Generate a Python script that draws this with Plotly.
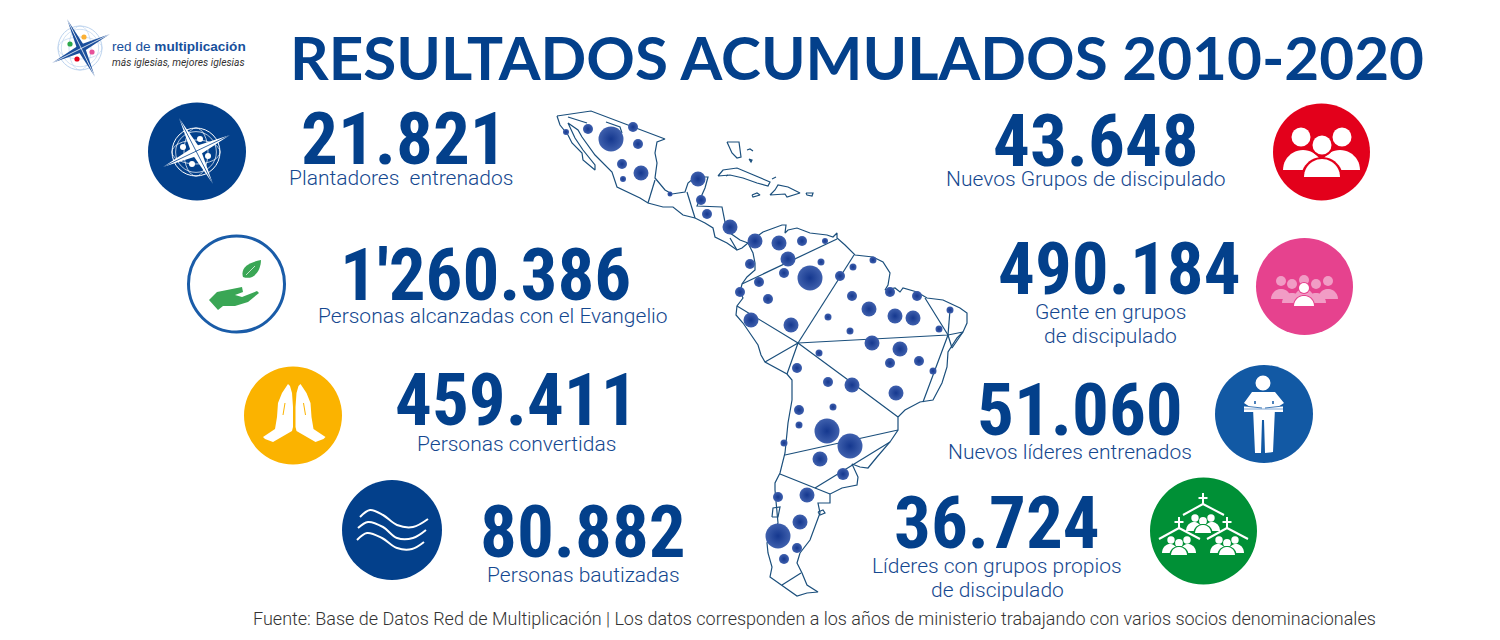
import numpy as np
import plotly.graph_objects as go

BLUE = "#03408b"
SUB = "#15488f"
MAP = "#1b4f7c"

# big numbers
stat_text = ["21.821", "1'260.386", "459.411", "80.882", "43.648", "490.184", "51.060", "36.724"]
stat_x = [404, 485, 516, 583, 1096, 1119, 1080, 997]
stat_y = [139, 275, 400, 532, 141, 269, 410, 523]

# captions
cap_text = ["Plantadores  entrenados", "Personas alcanzadas con el Evangelio", "Personas convertidas",
            "Personas bautizadas", "Nuevos Grupos de discipulado", "Gente en grupos", "de discipulado",
            "Nuevos líderes entrenados", "Líderes con grupos propios", "de discipulado"]
cap_x = [401, 493, 516, 583, 1086, 1110, 1110, 1070, 997, 997]
cap_y = [178, 316, 444, 575, 179, 312, 336, 452, 566, 590]

# dots on the map
dot_x = [566, 588, 611, 633, 638, 622, 641, 623, 698, 670, 701, 707, 730, 755, 779, 802, 825, 788, 821, 750,
         784, 810, 840, 759, 740, 768, 751, 791, 828, 819, 873, 853, 890, 917, 852, 950, 869, 895, 913, 939,
         850, 872, 900, 890, 919, 933, 797, 828, 852, 896, 833, 799, 799, 827, 850, 784, 820, 843, 807, 778,
         800, 778, 797, 784]
dot_y = [132, 129, 139, 127, 144, 164, 173, 179, 179, 194, 200, 214, 227, 241, 243, 241, 241, 259, 262, 264,
         273, 278, 276, 282, 292, 299, 320, 325, 317, 353, 260, 267, 292, 296, 296, 310, 309, 316, 318, 329,
         331, 343, 349, 363, 361, 371, 368, 382, 385, 393, 407, 410, 425, 431, 446, 443, 459, 474, 495, 497,
         522, 536, 548, 559]
dot_size = [6, 10, 25, 10, 10, 10, 15, 6, 15, 5, 10, 10, 15, 15, 15, 10, 6, 15, 7, 10,
            10, 25, 10, 10, 10, 10, 15, 15, 7, 7, 7, 7, 10, 10, 10, 7, 15, 15, 15, 7,
            7, 15, 15, 10, 10, 7, 10, 10, 15, 15, 7, 10, 7, 25, 25, 7, 15, 12, 15, 10,
            15, 25, 10, 10]

# map outlines, one list per line
map_lines = [
    # mexico and central america
    [(557, 116), (591, 111), (665, 139), (657, 142), (655, 153), (657, 163), (655, 178), (665, 190), (672, 194),
     (685, 192), (688, 183), (695, 177), (708, 177), (705, 188), (697, 206), (722, 207), (725, 222), (730, 233),
     (740, 240), (748, 243)],
    [(737, 250), (727, 243), (715, 237), (713, 228), (705, 223), (695, 218), (683, 215), (673, 207), (663, 207),
     (648, 203), (640, 198), (617, 187), (612, 172), (595, 155), (582, 137), (578, 130), (568, 123), (575, 138),
     (583, 150), (595, 165), (595, 170), (583, 160), (582, 153), (572, 143), (568, 135), (560, 125), (557, 116)],
    [(568, 117), (587, 123)], [(606, 122), (620, 127), (622, 133)],
    [(655, 180), (648, 203)], [(687, 192), (695, 218)],
    # south america coast
    [(730, 238), (737, 250), (742, 248), (748, 243), (763, 232), (782, 225), (786, 225), (785, 233), (788, 230),
     (797, 228), (810, 233), (827, 235), (833, 237), (837, 233), (837, 238), (845, 245), (855, 255), (873, 257),
     (883, 262), (890, 273), (888, 285), (885, 290), (895, 288), (900, 292), (903, 288), (917, 292), (927, 298),
     (943, 300), (960, 308), (967, 313), (967, 323), (963, 332), (957, 338), (948, 352), (947, 367), (942, 383),
     (933, 400), (920, 402), (905, 410), (898, 417), (898, 430), (890, 442), (877, 457), (868, 468), (860, 467),
     (852, 464), (858, 477), (857, 485), (842, 488), (830, 494), (830, 503), (818, 503), (820, 513), (815, 527),
     (810, 540), (800, 553), (797, 563), (802, 573), (807, 585), (818, 592), (807, 593), (797, 596), (782, 585),
     (770, 577), (772, 567), (768, 553), (767, 543), (778, 523), (775, 490), (775, 483), (780, 473), (785, 453),
     (788, 423), (792, 400), (792, 380), (787, 374), (765, 362), (761, 355), (758, 345), (750, 333), (743, 323),
     (736, 315), (737, 306), (743, 298), (740, 292), (742, 284), (747, 277), (755, 270), (755, 263), (753, 253),
     (748, 243)],
    # borders
    [(742, 284), (837, 239)],
    [(737, 306), (798, 343), (859, 388), (898, 417)],
    [(798, 343), (854, 255)],
    [(798, 343), (948, 335), (963, 332)],
    [(925, 298), (948, 335), (923, 402)],
    [(950, 310), (948, 335)],
    [(765, 362), (798, 343), (787, 374)],
    [(948, 335), (952, 348), (963, 332)],
    [(898, 430), (785, 455)],
    [(780, 474), (830, 494)],
    [(815, 488), (890, 442)],
    [(782, 585), (801, 573)],
    # islands
    [(772, 517), (773, 508), (780, 507), (778, 517), (772, 517)],
    [(818, 512), (823, 510), (825, 513), (820, 515), (818, 512)],
    [(727, 142), (739, 142), (741, 157), (737, 158), (732, 153), (727, 142)],
    [(718, 176), (723, 170), (737, 168), (753, 175), (770, 182), (768, 186), (757, 183), (743, 178), (730, 175), (718, 176)],
    [(770, 195), (775, 190), (778, 185), (788, 187), (800, 193), (787, 197), (785, 194), (770, 195)],
    [(752, 195), (757, 193), (760, 195), (753, 197), (752, 195)],
    [(806, 193), (813, 193), (812, 196), (807, 195), (806, 193)],
    [(747, 150), (750, 149), (753, 151)], [(749, 159), (752, 160), (751, 162), (749, 159)],
    [(772, 179), (776, 177)], [(726, 176), (728, 175)],
]

# icon discs: centre x, centre y, radius, colour
disc_x = [197, 293, 392, 1321.5, 1304.5, 1264, 1203.5]
disc_y = [151.5, 415.5, 530, 152, 286.5, 414, 531]
disc_r = [49, 49, 50, 48.5, 48.5, 49, 53.5]
disc_c = [BLUE, "#fbb300", BLUE, "#e3001b", "#e6428e", "#1259a4", "#009036"]

shapes = []


def poly(pts, color):
    p = "M" + " L".join(f"{x:.1f},{y:.1f}" for x, y in pts) + " Z"
    shapes.append(dict(type="path", path=p, fillcolor=color, line=dict(width=0), xref="x", yref="y", layer="below"))


def line(x0, y0, x1, y1, color, w=1.5):
    shapes.append(dict(type="line", x0=x0, y0=y0, x1=x1, y1=y1, line=dict(color=color, width=w), xref="x", yref="y", layer="below"))


def circle(cx, cy, r, fill="rgba(0,0,0,0)", edge=None, w=0, ry=None):
    ry = ry or r
    shapes.append(dict(type="circle", x0=cx - r, x1=cx + r, y0=cy - ry, y1=cy + ry, fillcolor=fill,
                       line=dict(color=edge or fill, width=w), xref="x", yref="y", layer="below"))


def dome(cx, base, rx, ry, color):
    t = np.linspace(np.pi, 2 * np.pi, 25)
    poly([(cx + rx * np.cos(a), base + ry * np.sin(a)) for a in t], color)


def ray(x0, y0, x1, y1, w, color):
    mx, my = (x0 + x1) / 2, (y0 + y1) / 2
    dx, dy = x1 - x0, y1 - y0
    n = np.hypot(dx, dy)
    nx, ny = -dy / n * w / 2, dx / n * w / 2
    poly([(x0, y0), (mx + nx, my + ny), (x1, y1), (mx - nx, my - ny)], color)


def compass(cx, cy, r, a, b, col, split, globe, w):
    # a and b are the two rays, globe rings behind them
    circle(cx, cy, r, edge=globe, w=1)
    circle(cx, cy, r * 0.85, edge=globe, w=0.7)
    circle(cx, cy, r * 0.5, ry=r, edge=globe, w=0.7)
    circle(cx, cy, r, ry=r * 0.5, edge=globe, w=0.7)
    ray(*a, w, col)
    ray(*b, w, col)
    line(*a, split, 0.8)
    line(*b, split, 0.8)


for cx, cy, r, c in zip(disc_x, disc_y, disc_r, disc_c):
    circle(cx, cy, r, fill=c)
circle(236.5, 284, 48, fill="white", edge="#1a5ca8", w=3)

# logo
compass(80, 48, 22, (67, 19, 95, 77), (52, 63, 110, 34), "#1b4f9c", "white", "#bcd3ee", 8)
for x, y, c in [(70, 44, "#2da84a"), (84, 37, "#fbb034"), (92, 52, "#e6529b"), (77, 59, "#e3001b")]:
    circle(x, y, 2.6, fill=c)

# compass on blue
compass(196, 152, 24, (179, 118, 213, 184), (163, 167, 230, 135), "white", BLUE, "white", 10)
for x, y in [(200, 139), (183, 147), (208, 156), (192, 164)]:
    circle(x, y, 3, fill="white")

# hand and leaf
shapes.append(dict(type="path", path="M243,277 C240,267 250,262 261,260 C261,270 254,281 243,277 Z",
                   fillcolor="#3aa655", line=dict(width=0), xref="x", yref="y", layer="below"))
line(246, 275, 255, 266, "white", 0.7)
poly([(209, 300), (217, 292), (242, 287), (243, 292), (235, 295), (242, 297), (257, 291), (259, 293), (248, 302),
      (235, 306), (223, 306), (218, 310)], "#3aa655")

# praying hands
left_hand = [(288, 384), (282, 393), (278, 403), (277, 417), (275, 429), (263, 437), (265, 439), (273, 442),
             (292, 431), (293, 427), (293, 407), (292, 393), (290, 386)]
poly(left_hand, "white")
poly([(588.5 - x, y) for x, y in left_hand], "white")
line(285, 403, 283, 415, "#fbb300", 1)
line(303.5, 403, 305.5, 415, "#fbb300", 1)

# three people on red
circle(1301, 137, 9.5, fill="white")
circle(1342, 137, 9.5, fill="white")
dome(1303, 170, 20, 20, "white")
dome(1340, 170, 20, 20, "white")
circle(1322, 145, 11.5, fill="#e3001b")
circle(1322, 145, 9.5, fill="white")
dome(1322, 178, 21, 21, "#e3001b")
dome(1322, 177, 18, 18, "white")

# crowd on pink
for x, b, h in [(1281, 299, 281), (1328, 299, 281), (1304, 299, 280), (1292, 303, 284), (1316, 303, 284)]:
    circle(x, h, 5, fill="#f19cc5")
    dome(x, b, 10, 10, "#f19cc5")
circle(1304, 288, 6, fill="#e6428e")
circle(1304, 288, 5, fill="white")
dome(1304, 306, 11, 11, "#e6428e")
dome(1304, 306, 10, 10, "white")

# reader on blue
circle(1263, 383, 7.5, fill="white")
poly([(1252, 392), (1275, 392), (1284, 403), (1278, 407), (1275, 408), (1273, 452), (1265, 453), (1264, 420),
      (1262, 420), (1261, 453), (1255, 453), (1253, 408), (1250, 407), (1244, 403)], "white")
poly([(1244, 406), (1283, 406), (1283, 412), (1244, 412)], "white")
line(1244, 409, 1283, 409, "#7fa6d4", 1)
line(1244, 406, 1262, 408, "#1259a4", 0.8)
line(1283, 406, 1265, 408, "#1259a4", 0.8)
line(1255, 404, 1255, 401, "#1259a4", 1.5)
line(1273, 404, 1273, 401, "#1259a4", 1.5)

# churches on green
GREEN = "#009036"
for cx, base, top in [(1203, 533, 504), (1179, 555, 528), (1227, 555, 528)]:
    shapes.append(dict(type="path", path=f"M{cx - 20},{top + 11} L{cx},{top} L{cx + 21},{top + 11}",
                       line=dict(color="white", width=2), xref="x", yref="y", layer="below"))
    line(cx, top - 11, cx, top, "white", 2)
    line(cx - 4.5, top - 6, cx + 4.5, top - 6, "white", 2)
    circle(cx - 8, base - 15, 3.7, fill="white")
    circle(cx + 8, base - 15, 3.7, fill="white")
    dome(cx - 9, base - 2, 8, 9, "white")
    dome(cx + 9, base - 2, 8, 9, "white")
    circle(cx, base - 12, 3.9, fill="white")
    dome(cx, base, 9.5, 9, GREEN)
    dome(cx, base, 8, 8, "white")

fig = go.Figure()

# waves
wave_x = [[360, 370, 383, 397, 413, 428], [358, 368, 383, 397, 413, 426], [357, 367, 382, 397, 412, 424]]
wave_y = [[517, 510, 515, 525, 527, 519], [528, 522, 527, 538, 538, 530], [540, 533, 538, 548, 549, 542]]
for wx, wy in zip(wave_x, wave_y):
    fig.add_trace(go.Scatter(x=wx, y=wy, mode="lines", line=dict(color="white", width=2, shape="spline"), hoverinfo="skip"))

for pts in map_lines:
    fig.add_trace(go.Scatter(x=[p[0] for p in pts], y=[p[1] for p in pts], mode="lines",
                             line=dict(color=MAP, width=1.2), hoverinfo="skip"))

fig.add_trace(go.Scatter(
    x=dot_x, y=dot_y, mode="markers",
    marker=dict(size=dot_size, color="#3f60ad", opacity=1, line=dict(width=0),
                gradient=dict(type="radial", color="#15388f")),
    hoverinfo="skip"))

notes = []
for t, x, y in zip(stat_text, stat_x, stat_y):
    notes.append(dict(text=t, x=x, y=y, font=dict(family="Roboto Condensed, Liberation Sans Narrow", size=73, color=BLUE, weight=700)))
for t, x, y in zip(cap_text, cap_x, cap_y):
    notes.append(dict(text=t, x=x, y=y, font=dict(family="Roboto", size=21, color=SUB, weight=300)))
notes.append(dict(text="RESULTADOS ACUMULADOS 2010-2020", x=857, y=57, font=dict(family="Lato", size=60.2, color=BLUE, weight=700)))
notes.append(dict(text="Fuente: Base de Datos Red de Multiplicación | Los datos corresponden a los años de ministerio trabajando con varios socios denominacionales",
                  x=814, y=618, font=dict(family="Roboto", size=18, color="#333333", weight=300)))
notes.append(dict(text="red de <b>multiplicación</b>", x=111, y=46, xanchor="left",
                  font=dict(family="Liberation Sans", size=13.6, color="#17509c")))
notes.append(dict(text="<i>más iglesias, mejores iglesias</i>", x=111, y=62, xanchor="left",
                  font=dict(family="Roboto", size=10.3, color="#333333")))
for n in notes:
    n.update(xref="x", yref="y", showarrow=False, borderpad=0)
    n.setdefault("xanchor", "center")

fig.update_layout(
    width=1500, height=640, margin=dict(l=0, r=0, t=0, b=0),
    paper_bgcolor="white", plot_bgcolor="white", showlegend=False,
    xaxis=dict(range=[0, 1500], visible=False, fixedrange=True),
    yaxis=dict(range=[640, 0], visible=False, fixedrange=True),
    shapes=shapes, annotations=notes,
)

fig.write_html("out.html", config={"displayModeBar": False},
               post_script="document.body.style.margin='0';document.body.style.overflow='hidden';")
